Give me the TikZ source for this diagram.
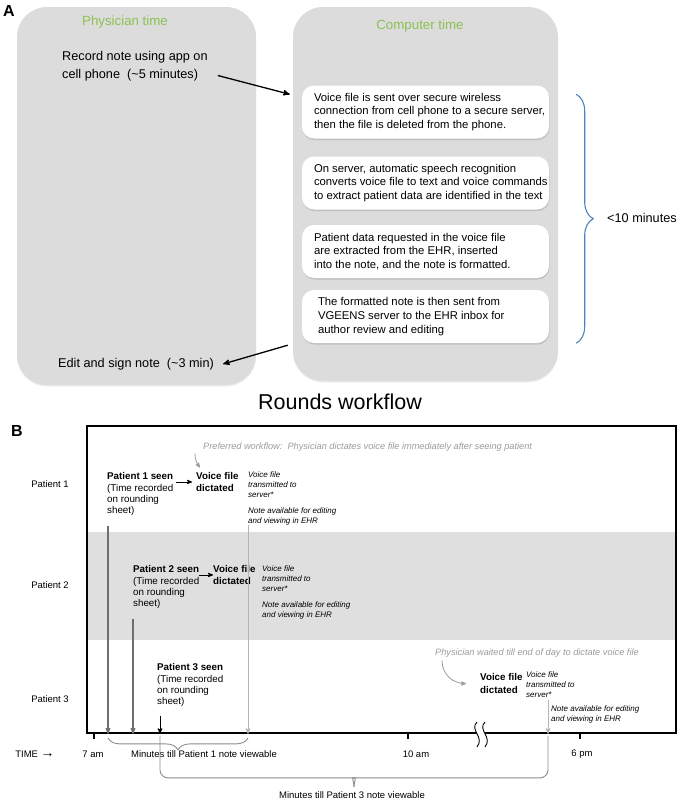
\documentclass[tikz,border=0pt]{standalone}
\usepackage{fontspec}
\setmainfont{Liberation Sans}
\usetikzlibrary{arrows}
\usetikzlibrary{calc}
\usetikzlibrary{positioning}
\usetikzlibrary{shadows}
\usetikzlibrary{decorations.pathreplacing}
\definecolor{phystime}{HTML}{8CC152}
\definecolor{panelgray}{HTML}{DCDCDC}
\definecolor{bandgray}{HTML}{DFDFDF}
\definecolor{bracebl}{HTML}{4F81BD}
\definecolor{notegray}{HTML}{9B9B9B}
\definecolor{lightline}{HTML}{B5B5B5}
\definecolor{darkline}{HTML}{6E6E6E}
\tikzset{
	panel/.style={fill=panelgray,rounded corners=30pt,inner sep=0pt,drop shadow={opacity=0.15,shadow xshift=0pt,shadow yshift=-1.5pt}},
	stepbox/.style={fill=white,rounded corners=12pt,minimum width=247pt,minimum height=53pt,inner sep=0pt,drop shadow={opacity=0.3,shadow xshift=0.5pt,shadow yshift=-1.5pt}},
	lettr/.style={font=\fontsize{16}{18}\selectfont\bfseries},
	headr/.style={text=phystime,font=\fontsize{13.3}{16}\selectfont},
	atext/.style={inner sep=0pt,align=left,font=\fontsize{12.7}{18}\selectfont},
	boxtext/.style={inner sep=0pt,align=left,font=\fontsize{11.3}{13.7}\selectfont},
	title/.style={font=\fontsize{21.5}{24}\selectfont},
	btext/.style={inner sep=0pt,font=\fontsize{9.5}{11}\selectfont},
	seen/.style={inner sep=0pt,align=left,font=\fontsize{9.8}{11.3}\selectfont},
	dict/.style={inner sep=0pt,align=left,font=\fontsize{9.8}{11.3}\selectfont\bfseries},
	inote/.style={inner sep=0pt,align=left,font=\fontsize{8}{10}\selectfont\itshape},
	gnote/.style={inner sep=0pt,text=notegray,font=\fontsize{9.2}{11}\selectfont\itshape},
	bracegray/.style={draw=darkline!80,line width=0.9pt},
	tickmark/.style={line width=1.5pt}
}

\begin{document}
\begin{tikzpicture}[x=1pt,y=-1pt]
	\useasboundingbox (0,0) rectangle (680,803);
	\node[lettr] (la) at (9,11) {A};
	\node[panel,minimum width=239pt,minimum height=378pt] (phys) at (136.5,196) {};
	\node[panel,minimum width=265pt,minimum height=374pt] (comp) at (425.5,194) {};
	\node[headr] (ph) at (125,22) {Physician time};
	\node[headr] (ct) at (420,26) {Computer time};
	\node[atext,anchor=north west] (rec) at (62,51.4) {Record note using app on\\cell phone\ \ (\textasciitilde5 minutes)};
	\node[atext,anchor=west] (edit) at (58,364) {Edit and sign note\ \ (\textasciitilde3 min)};
	\node[stepbox] (b1) at (425.5,112) {};
	\node[stepbox] (b2) at (425.5,183) {};
	\node[stepbox] (b3) at (425.5,251.5) {};
	\node[stepbox] (b4) at (425.5,316.5) {};
	\node[boxtext,anchor=west] (t1) at ([xshift=12pt]b1.west) {Voice file is sent over secure wireless\\connection from cell phone to a secure server,\\then the file is deleted from the phone.};
	\node[boxtext,anchor=west] (t2) at ([xshift=12pt]b2.west) {On server, automatic speech recognition\\converts voice file to text and voice commands\\to extract patient data are identified in the text};
	\node[boxtext,anchor=west] (t3) at ([xshift=12pt]b3.west) {Patient data requested in the voice file\\are extracted from the EHR, inserted\\into the note, and the note is formatted.};
	\node[boxtext,anchor=west] (t4) at ([xshift=16pt]b4.west) {The formatted note is then sent from\\VGEENS server to the EHR inbox for\\author review and editing};
	\draw[->,>=stealth',line width=1.3pt] ([xshift=10pt,yshift=-9pt]rec.east) -- ([xshift=-12pt,yshift=-9pt]b1.north west);
	\draw[->,>=stealth',line width=1.3pt] ([xshift=-14pt,yshift=-2pt]b4.south west) -- ([xshift=9pt]edit.east);
	\coordinate (bt) at ([xshift=27pt,yshift=-9pt]b1.north east);
	\coordinate (bb) at ([xshift=27pt]b4.south east);
	\draw[decorate,decoration={brace,amplitude=17pt},bracebl,line width=1.1pt] (bt) -- (bb);
	\node[atext,anchor=west] (lt) at (607,218) {<10 minutes};

	\node[title] (rw) at (340,402) {Rounds workflow};
	\node[lettr] (lb) at (17,431) {B};
	\fill[bandgray] (88,532) rectangle (675,640);
	\node[draw,line width=1.8pt,minimum width=589pt,minimum height=307pt,inner sep=0pt] (frame) at (381.5,579.5) {};
	\node[btext] (p1) at (50,484) {Patient 1};
	\node[btext] (p2) at (50,585) {Patient 2};
	\node[btext] (p3) at (50,699) {Patient 3};

	\node[gnote,anchor=west] (pref) at (203,447) {Preferred workflow:\ \ Physician dictates voice file immediately after seeing patient};
	\node[seen,anchor=north west] (ps1) at (107,472.5) {\textbf{Patient 1 seen}\\(Time recorded\\on rounding\\sheet)};
	\node[dict,anchor=north west] (vd1) at (196,472.5) {Voice file\\dictated};
	\node[inote,anchor=north west] (it1) at (248,471) {Voice file\\transmitted to\\server*\\[6pt]Note available for editing\\and viewing in EHR};
	\draw[->,>=stealth',line width=0.8pt] ($(ps1.east |- vd1.west)+(3,0)$) -- ([xshift=-4pt]vd1.west);
	\draw[->,>=stealth',notegray,line width=0.8pt] ([xshift=-8pt,yshift=-2pt]pref.south west) .. controls ([xshift=-8pt,yshift=-9pt]pref.south west) and ([xshift=-6pt,yshift=-12pt]pref.south west) .. ([xshift=4pt,yshift=5pt]vd1.north west);

	\node[seen,anchor=north west] (ps2) at (133,565.5) {\textbf{Patient 2 seen}\\(Time recorded\\on rounding\\sheet)};
	\node[dict,anchor=north west] (vd2) at (213,565.5) {Voice file\\dictated};
	\node[inote,anchor=north west] (it2) at (262,565) {Voice file\\transmitted to\\server*\\[6pt]Note available for editing\\and viewing in EHR};
	\draw[->,>=stealth',line width=0.8pt] (ps2.east |- vd2.west) -- (vd2.west);

	\node[seen,anchor=north west] (ps3) at (157,663.5) {\textbf{Patient 3 seen}\\(Time recorded\\on rounding\\sheet)};
	\node[gnote,anchor=west] (wait) at (435,653) {Physician waited till end of day to dictate voice file};
	\node[dict,anchor=north west,font=\fontsize{9.8}{12.5}\selectfont\bfseries] (vd3) at (480,673.5) {Voice file\\dictated};
	\node[inote,anchor=north west] (it3) at (526,671) {Voice file\\transmitted to\\server*};
	\node[inote,anchor=north west] (it3b) at (551,705) {Note available for editing\\and viewing in EHR};
	\draw[->,>=stealth',notegray,line width=0.8pt] ([xshift=7pt,yshift=-3pt]wait.south west) .. controls ([xshift=7pt,yshift=-18pt]wait.south west) and ([xshift=-26pt]vd3.west) .. ([xshift=-14pt]vd3.west);

	\draw[darkline,line width=1.1pt,->,>=stealth'] ($(ps1.south west)+(1,10)$) -- ($(ps1.south west |- frame.south)+(1,0)$);
	\draw[darkline,line width=1.1pt,->,>=stealth'] ($(ps2.south west)+(0,10)$) -- ($(ps2.south west |- frame.south)+(0,0)$);
	\coordinate (l3) at ($(ps3.south west |- frame.south)+(3,0)$);
	\coordinate (r3) at ($(it3b.north west |- frame.south)+(-3,0)$);
	\coordinate (tip3) at ($(l3)!0.5!(r3)+(0,53)$);
	\draw[line width=1pt,->,>=stealth'] ($(ps3.south west)+(3,9)$) -- (l3);
	\draw[lightline,line width=1pt,->,>=stealth'] (it1.south west) -- (it1.south west |- frame.south);
	\draw[lightline,line width=1pt,->,>=stealth'] ($(it3b.north west)+(-3,-5)$) -- (r3);

	\draw[tickmark] (94,733) -- (94,739);
	\draw[tickmark] (408,733) -- (408,739);
	\draw[tickmark] (580,733) -- (580,739);
	\fill[white] (477,722) .. controls (469,730) and (485,737) .. (477,747) -- (485,747) .. controls (493,737) and (477,730) .. (485,722) -- cycle;
	\draw[line width=0.9pt] (477,722) .. controls (469,730) and (485,737) .. (477,747);
	\draw[line width=0.9pt] (485,722) .. controls (477,730) and (493,737) .. (485,747);

	\node[btext] (tm) at (35,754) {TIME {\fontsize{14}{14}\selectfont\bfseries →}};
	\node[btext] (h7) at (93,754) {7 am};
	\node[btext] (h10) at (416,754) {10 am};
	\node[btext] (h6) at (582,754) {6 pm};

	\draw[decorate,decoration={brace,amplitude=12pt,mirror},bracegray] ($(ps1.south west |- frame.south)+(1,4)$) -- ($(it1.south west |- frame.south)+(0,4)$);
	\node[btext] (m1) at (204,754) {Minutes till Patient 1 note viewable};
	\draw[bracegray,rounded corners=8pt] ($(l3)+(0,2)$) |- ($(tip3)+(-8,-9)$) .. controls ($(tip3)+(-3,-9)$) and ($(tip3)+(0,-6)$) .. (tip3);
	\draw[bracegray,rounded corners=8pt] ($(r3)+(0,2)$) |- ($(tip3)+(8,-9)$) .. controls ($(tip3)+(3,-9)$) and ($(tip3)+(0,-6)$) .. (tip3);
	\node[btext] (m3) at (352,795) {Minutes till Patient 3 note viewable};
\end{tikzpicture}
\end{document}
